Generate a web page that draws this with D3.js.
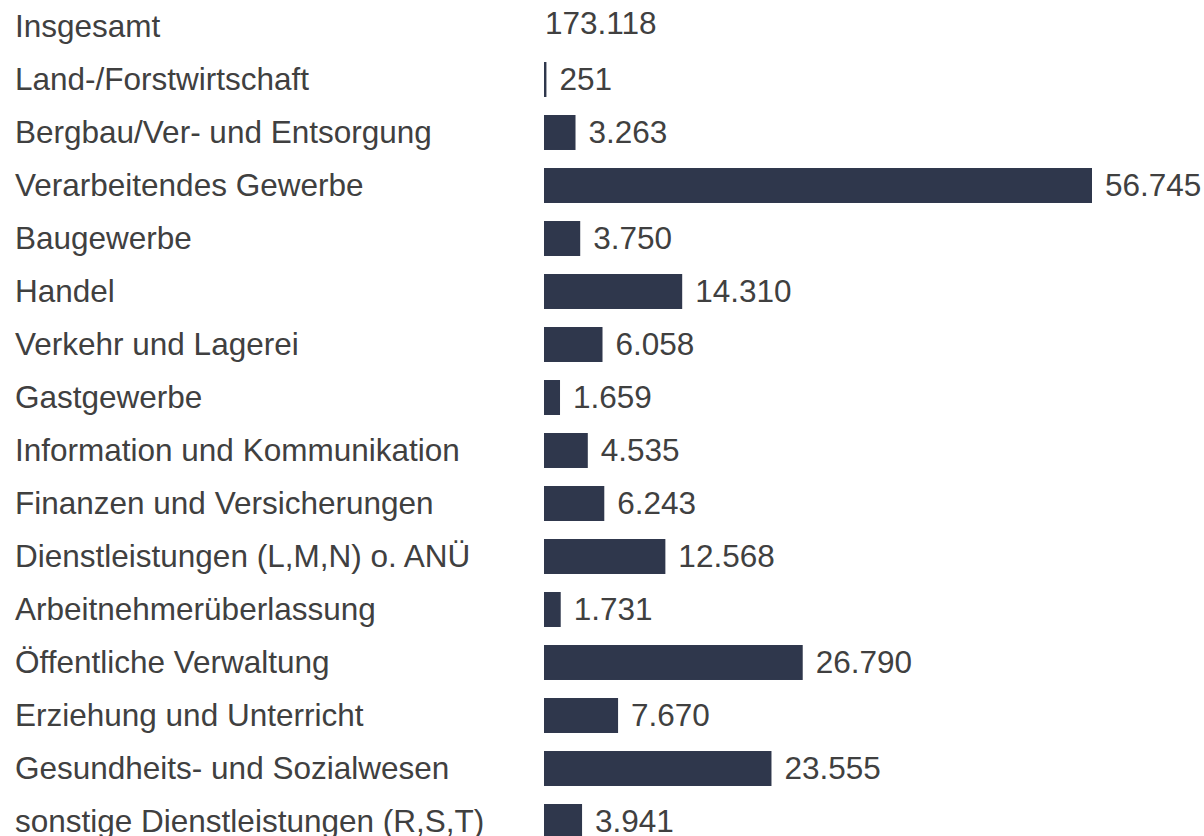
<!DOCTYPE html>
<html>
<head>
<meta charset="utf-8">
<script src="https://cdn.jsdelivr.net/npm/d3@7"></script>
<style>
  body { margin: 0; background: #fff; }
  text { font-family: "Liberation Sans", Arial, sans-serif; fill: #404040; }
</style>
</head>
<body>
<div id="chart-container"></div>
<script>
// Beschäftigte nach Wirtschaftszweigen - horizontal bars
var categories = [
  "Insgesamt",
  "Land-/Forstwirtschaft",
  "Bergbau/Ver- und Entsorgung",
  "Verarbeitendes Gewerbe",
  "Baugewerbe",
  "Handel",
  "Verkehr und Lagerei",
  "Gastgewerbe",
  "Information und Kommunikation",
  "Finanzen und Versicherungen",
  "Dienstleistungen (L,M,N) o. ANÜ",
  "Arbeitnehmerüberlassung",
  "Öffentliche Verwaltung",
  "Erziehung und Unterricht",
  "Gesundheits- und Sozialwesen",
  "sonstige Dienstleistungen (R,S,T)"
];

var values = [173118, 251, 3263, 56745, 3750, 14310, 6058, 1659, 4535, 6243, 12568, 1731, 26790, 7670, 23555, 3941];

var totalLabel = "Insgesamt";

var width = 1204,
    height = 836,
    barLeft = 544,
    barRight = 1092,
    fontSize = 31.5;

var de = d3.formatLocale({decimal: ",", thousands: ".", grouping: [3], currency: ["", " €"]});
var fmt = de.format(",d");

var data = categories.map(function(c, i) { return {name: c, value: values[i]}; });
var parts = data.filter(function(d) { return d.name !== totalLabel; });

var x = d3.scaleLinear()
    .domain([0, d3.max(parts, function(d) { return d.value; })])
    .range([barLeft, barRight]);

var y = d3.scaleBand()
    .domain(categories)
    .range([0, 848])
    .paddingInner(0.34)
    .paddingOuter(0.17);

var svg = d3.select("#chart-container")
    .append("svg")
    .attr("width", width)
    .attr("height", height);

// category labels
svg.selectAll(".cat")
    .data(data)
  .enter().append("text")
    .attr("class", "cat")
    .attr("x", 15)
    .attr("y", function(d) { return y(d.name) + y.bandwidth() / 2; })
    .attr("dy", "0.34em")
    .style("font-size", fontSize + "px")
    .text(function(d) { return d.name; });

// bars (total has none)
svg.selectAll(".bar")
    .data(parts)
  .enter().append("rect")
    .attr("class", "bar")
    .style("fill", "#2f374c")
    .attr("x", x(0))
    .attr("y", function(d) { return y(d.name); })
    .attr("width", function(d) { return x(d.value) - x(0); })
    .attr("height", y.bandwidth());

// value labels
svg.selectAll(".val")
    .data(data)
  .enter().append("text")
    .attr("class", "val")
    .attr("x", function(d) { return d.name === totalLabel ? x(0) + 1 : x(d.value) + 13; })
    .attr("y", function(d) { return y(d.name) + y.bandwidth() / 2; })
    .attr("dy", function(d) { return d.name === totalLabel ? "0.24em" : "0.34em"; })
    .style("font-size", fontSize + "px")
    .text(function(d) { return fmt(d.value); });
</script>
</body>
</html>
